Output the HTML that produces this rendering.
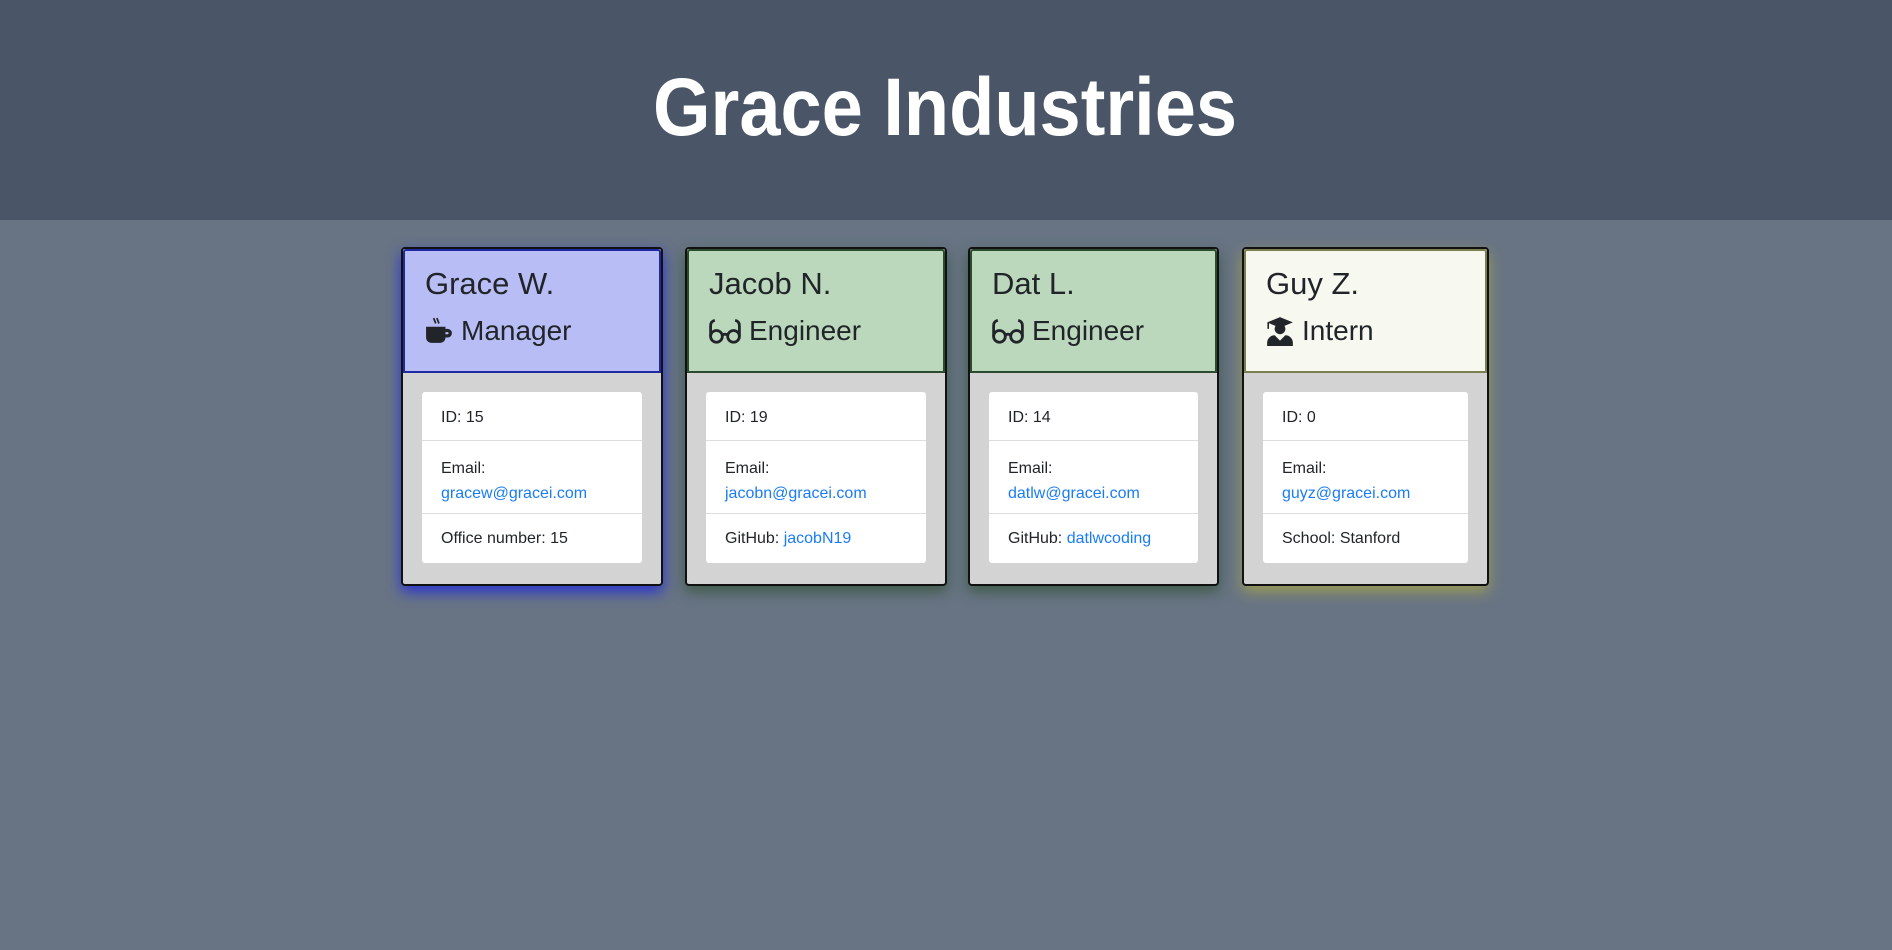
<!DOCTYPE html>
<html><head><meta charset="utf-8"><style>
*{margin:0;padding:0;box-sizing:border-box}
body{width:1892px;height:950px;background:#687484;font-family:"Liberation Sans",sans-serif;position:relative;overflow:hidden}
.top{position:absolute;left:0;top:0;width:1892px;height:220px;background:#4a5667}
.card{position:absolute;top:247px;height:339px;border:2px solid #111;border-radius:4px;background:#d3d3d3}
.hd{position:absolute;left:0;top:0;right:0;height:124px;border:2px solid;border-radius:3px 3px 0 0}
.nm{position:absolute;left:20px;top:15px;font-size:31px;color:#212529;white-space:nowrap}
.rl{position:absolute;left:20px;top:64px;font-size:28px;color:#212529;white-space:nowrap;display:flex;align-items:center}
.rl svg{margin-right:8px}
.lg{position:absolute;left:19px;right:19px;top:143px;height:171px;background:#fff;border-radius:3px;font-size:16px;color:#212529}
.r{position:absolute;left:0;right:0;padding-left:19px;border-bottom:1px solid #ddd}
a{color:#1a7cf5;text-decoration:none}
</style></head><body>
<div class="top"></div>
<svg style="position:absolute;left:0;top:0" width="1892" height="220"><text x="653" y="135" textLength="584" lengthAdjust="spacingAndGlyphs" font-family="Liberation Sans" font-weight="bold" font-size="82" fill="#fff">Grace Industries</text></svg>

<div class="card" style="left:401px;width:262px;box-shadow:0 6px 14px #2a35d0">
<div class="hd" style="background:#b8bef5;border-color:#1f2aa0"><div class="nm">Grace W.</div><div class="rl"><svg width="28" height="28" viewBox="0 0 26 26"><path d="M8 1l2 5M11 1l2 5" stroke="#212529" stroke-width="1.6"/><path d="M1 9h18v10a5 5 0 0 1-5 5H6a5 5 0 0 1-5-5z" fill="#212529"/><path d="M19 11h2a4 4 0 0 1 0 8h-2v-3h2a1 1 0 0 0 0-2h-2z" fill="#212529"/></svg>Manager</div></div>
<div class="lg"><div class="r" style="top:0;height:49px;padding-top:17px">ID: 15</div><div class="r" style="top:49px;height:73px;padding-top:15px;line-height:25px">Email:<br><a>gracew@gracei.com</a></div><div class="r" style="top:122px;height:49px;padding-top:16px;border:0">Office number: 15</div></div></div>

<div class="card" style="left:685px;width:262px;box-shadow:0 6px 14px #3f5a48">
<div class="hd" style="background:#bbd8bc;border-color:#2c4a2e"><div class="nm">Jacob N.</div><div class="rl"><svg width="32" height="28" viewBox="0 0 30 26"><g fill="none" stroke="#212529" stroke-width="2.6"><circle cx="7" cy="18" r="5.5"/><circle cx="23" cy="18" r="5.5"/><path d="M12 17q3-2 6 0M1.5 18V8q0-4 4-5M28.5 18V8q0-4-4-5"/></g></svg>Engineer</div></div>
<div class="lg"><div class="r" style="top:0;height:49px;padding-top:17px">ID: 19</div><div class="r" style="top:49px;height:73px;padding-top:15px;line-height:25px">Email:<br><a>jacobn@gracei.com</a></div><div class="r" style="top:122px;height:49px;padding-top:16px;border:0">GitHub: <a>jacobN19</a></div></div></div>

<div class="card" style="left:968px;width:251px;box-shadow:0 6px 14px #3f5a48">
<div class="hd" style="background:#bbd8bc;border-color:#2c4a2e"><div class="nm">Dat L.</div><div class="rl"><svg width="32" height="28" viewBox="0 0 30 26"><g fill="none" stroke="#212529" stroke-width="2.6"><circle cx="7" cy="18" r="5.5"/><circle cx="23" cy="18" r="5.5"/><path d="M12 17q3-2 6 0M1.5 18V8q0-4 4-5M28.5 18V8q0-4-4-5"/></g></svg>Engineer</div></div>
<div class="lg"><div class="r" style="top:0;height:49px;padding-top:17px">ID: 14</div><div class="r" style="top:49px;height:73px;padding-top:15px;line-height:25px">Email:<br><a>datlw@gracei.com</a></div><div class="r" style="top:122px;height:49px;padding-top:16px;border:0">GitHub: <a>datlwcoding</a></div></div></div>

<div class="card" style="left:1242px;width:247px;box-shadow:0 6px 14px #9a9a55">
<div class="hd" style="background:#f7f8ef;border-color:#7a7f50"><div class="nm">Guy Z.</div><div class="rl"><svg width="28" height="30" viewBox="0 0 26 28"><path d="M13 1L25 6 13 11 1 6z" fill="#212529"/><path d="M2 6v6" stroke="#212529" stroke-width="1.5"/><circle cx="13" cy="12" r="5" fill="#212529"/><path d="M1 28v-3a7 7 0 0 1 7-7l5 5 5-5a7 7 0 0 1 7 7v3z" fill="#212529"/></svg>Intern</div></div>
<div class="lg"><div class="r" style="top:0;height:49px;padding-top:17px">ID: 0</div><div class="r" style="top:49px;height:73px;padding-top:15px;line-height:25px">Email:<br><a>guyz@gracei.com</a></div><div class="r" style="top:122px;height:49px;padding-top:16px;border:0">School: Stanford</div></div></div>
</body></html>
